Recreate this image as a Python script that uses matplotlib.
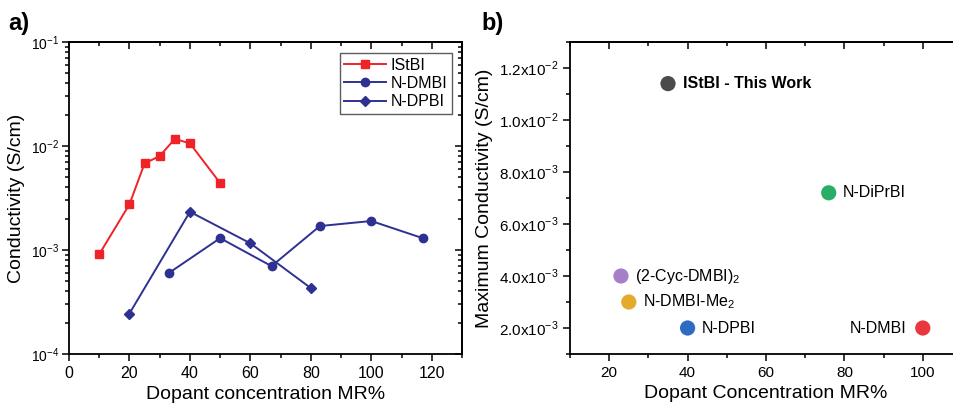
import numpy as np
import matplotlib
matplotlib.use("Agg")
from matplotlib import pyplot as plt
from matplotlib.ticker import MultipleLocator, FixedLocator, NullFormatter, LogLocator

plt.rcParams['font.family'] = ['Liberation Sans', 'DejaVu Sans']
plt.rcParams['mathtext.fontset'] = 'custom'
plt.rcParams['mathtext.rm'] = 'Liberation Sans'

# panel a: conductivity vs dopant concentration
istbi_x = [10, 20, 25, 30, 35, 40, 50]
istbi_y = [9.1e-4, 2.75e-3, 6.8e-3, 8.0e-3, 1.17e-2, 1.06e-2, 4.4e-3]
dmbi_x = [33, 50, 67, 83, 100, 117]
dmbi_y = [6.0e-4, 1.3e-3, 7.0e-4, 1.7e-3, 1.9e-3, 1.3e-3]
dpbi_x = [20, 40, 60, 80]
dpbi_y = [2.45e-4, 2.33e-3, 1.16e-3, 4.3e-4]

# panel b: maximum conductivity per dopant
dop_names = ['IStBI - This Work', 'N-DiPrBI', '(2-Cyc-DMBI)$_2$', 'N-DMBI-Me$_2$', 'N-DPBI', 'N-DMBI']
dop_x = [35, 76, 23, 25, 40, 100]
dop_y = [1.14e-2, 7.2e-3, 4.0e-3, 3.0e-3, 2.0e-3, 2.0e-3]
dop_col = ['#4b4b4b', '#2aad67', '#a77fc6', '#e3ab2b', '#2f6bc3', '#e8373d']

W, H = 954, 411
fig = plt.figure(figsize=(W / 100, H / 100), dpi=100)

navy = '#2e3192'
red = '#ee2227'

def spines(a):
    for s in a.spines.values():
        s.set_linewidth(1.3)

ax = fig.add_axes([69 / W, (H - 354) / H, (462 - 69) / W, (354 - 42) / H])
ax.plot(istbi_x, istbi_y, '-s', color=red, ms=5.5, lw=1.4, label='IStBI')
ax.plot(dmbi_x, dmbi_y, '-o', color=navy, ms=6, lw=1.4, label='N-DMBI')
ax.plot(dpbi_x, dpbi_y, '-D', color=navy, ms=5, lw=1.4, label='N-DPBI')
ax.set_yscale('log')
ax.set_xlim(0, 130)
ax.set_ylim(1e-4, 1e-1)
xmaj = [0, 20, 40, 60, 80, 100, 120]
ax.xaxis.set_major_locator(FixedLocator(xmaj))
ax.xaxis.set_minor_locator(MultipleLocator(10))
ax.yaxis.set_major_locator(LogLocator(base=10, numticks=10))
ax.yaxis.set_minor_locator(LogLocator(base=10, subs=np.arange(2, 10), numticks=10))
ax.yaxis.set_minor_formatter(NullFormatter())
ax.tick_params(which='both', direction='out', width=1.1)
ax.tick_params(which='major', length=5, labelsize=11.5)
ax.tick_params(axis='y', which='major', labelsize=10, pad=2)
ax.tick_params(which='minor', length=3)
spines(ax)
# mirrored ticks pointing inward on top and right
top = ax.secondary_xaxis('top')
top.xaxis.set_major_locator(FixedLocator(xmaj))
top.xaxis.set_minor_locator(MultipleLocator(10))
top.tick_params(which='both', direction='in', labeltop=False, width=1.1)
top.tick_params(which='major', length=5)
top.tick_params(which='minor', length=3)
rgt = ax.secondary_yaxis('right')
rgt.yaxis.set_major_locator(LogLocator(base=10, numticks=10))
rgt.yaxis.set_minor_locator(LogLocator(base=10, subs=np.arange(2, 10), numticks=10))
rgt.tick_params(which='both', direction='in', labelright=False, width=1.1)
rgt.tick_params(which='major', length=5)
rgt.tick_params(which='minor', length=3)
spines(top)
spines(rgt)
ax.set_xlabel('Dopant concentration MR%', fontsize=14)
ax.set_ylabel('Conductivity (S/cm)', fontsize=14, labelpad=4)
leg = ax.legend(loc='upper right', bbox_to_anchor=(0.975, 0.965), fontsize=11.5,
                fancybox=False, edgecolor='#333333', handlelength=2.6,
                borderpad=0.3, labelspacing=0.2, handletextpad=0.3, borderaxespad=0)
leg.get_frame().set_linewidth(1.0)
fig.text(8 / W, 1 - 30 / H, 'a)', fontsize=17, fontweight='bold')

bx = fig.add_axes([570 / W, (H - 354) / H, 392 / W, (354 - 42) / H])
bx.scatter(dop_x, dop_y, s=120, c=dop_col, zorder=3, linewidths=0)
for i in range(len(dop_names)):
    if dop_names[i] == 'N-DMBI':
        bx.annotate(dop_names[i], (dop_x[i], dop_y[i]), xytext=(-12, 0), textcoords='offset points',
                    ha='right', va='center', fontsize=11.5)
    elif i == 0:
        bx.annotate(dop_names[i], (dop_x[i], dop_y[i]), xytext=(11, 0), textcoords='offset points',
                    ha='left', va='center', fontsize=11.5, fontweight='bold')
    else:
        bx.annotate(dop_names[i], (dop_x[i], dop_y[i]), xytext=(10, 0), textcoords='offset points',
                    ha='left', va='center', fontsize=11.5)
bx.set_xlim(10, 110)
bx.set_ylim(1e-3, 1.3e-2)
bxmaj = [20, 40, 60, 80, 100]
bx.xaxis.set_major_locator(FixedLocator(bxmaj))
bx.xaxis.set_minor_locator(MultipleLocator(10))
yt = [2e-3, 4e-3, 6e-3, 8e-3, 1e-2, 1.2e-2]
ylab = ['2.0x10$^{-3}$', '4.0x10$^{-3}$', '6.0x10$^{-3}$', '8.0x10$^{-3}$', '1.0x10$^{-2}$', '1.2x10$^{-2}$']
bx.set_yticks(yt)
bx.set_yticklabels(ylab)
bx.yaxis.set_minor_locator(MultipleLocator(1e-3))
bx.tick_params(which='both', direction='out', width=1.1)
bx.tick_params(which='major', length=5, labelsize=11)
bx.tick_params(which='minor', length=3)
spines(bx)
btop = bx.secondary_xaxis('top')
btop.xaxis.set_major_locator(FixedLocator(bxmaj))
btop.xaxis.set_minor_locator(MultipleLocator(10))
btop.tick_params(which='both', direction='in', labeltop=False, width=1.1)
btop.tick_params(which='major', length=5)
btop.tick_params(which='minor', length=3)
spines(btop)
bx.set_xlabel('Dopant Concentration MR%', fontsize=14)
bx.set_ylabel('Maximum Conductivity (S/cm)', fontsize=14, labelpad=4)
fig.text(481 / W, 1 - 30 / H, 'b)', fontsize=17, fontweight='bold')

fig.savefig('out.png', dpi=100)
